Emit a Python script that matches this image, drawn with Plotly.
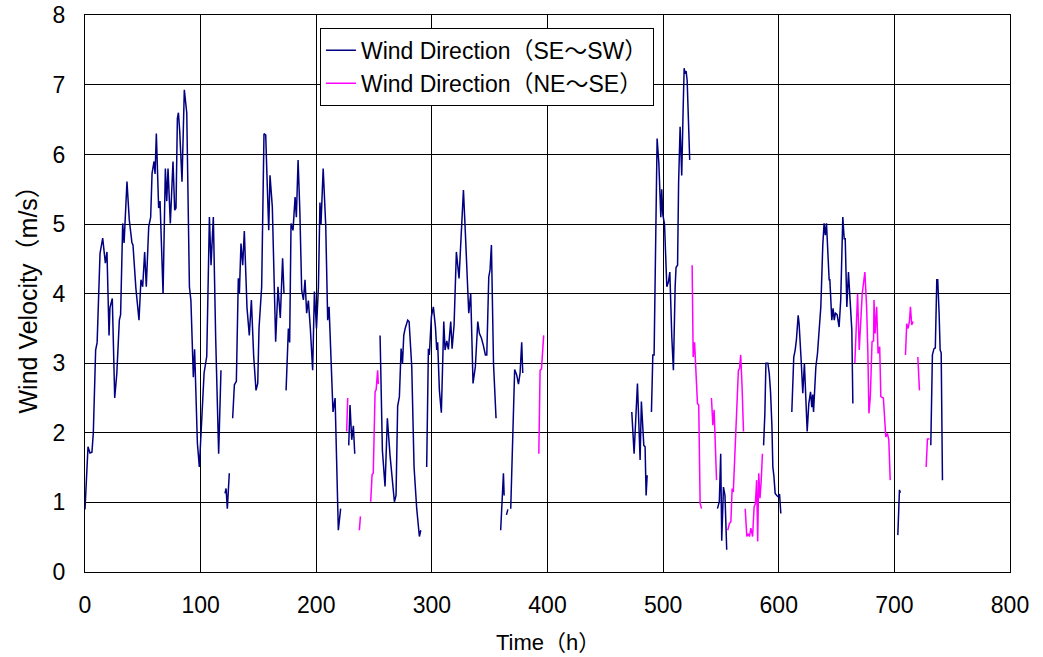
import plotly.graph_objects as go

# ---- data (time in hours, wind velocity in m/s); None = gap ----
se_sw_time = [
    0, 1, 2.6, 4.3, 6, 7.2, 9.2, 10.5, 13, 15.3, 17.6, 19, 20.8, 21.6, 23.6, 25.7, 27.5, 29.7, 30.8, 32.6,
    33.8, 36.3, 38.3, 40.6, 41.5, 44, 46.7, 48.4, 49.9, 51.6, 53, 55.1, 56.8, 58, 59.7, 60.6, 61.7, 63.7,
    64.9, 67.5, 69.5, 70.7, 71.8, 73.8, 76.1, 77.6, 78.7, 79.9, 80.8, 81.9, 83.9, 85.9, 88, 90.3, 91.6,
    93.7, 94.8, 97.2, 98.9, 103, 105.3, 107.6, 109, 111, 113, 115.6, 117.6, None,
    121.1, 122, 123.1, 124.8, None,
    127.7, 129.2, 130.9, 132.6, 133.5, 134.9, 136.4, 137.8, 140.1, 142.1, 143.9, 145.9, 147.9, 149.4,
    150.5, 152.8, 154.8, 156.3, 157.4, 158.9, 160, 162, 164.9, 166.9, 168.9, 170.9, 172.1, None,
    173.9, 175.9, 177, 178.2, 179.9, 181.7, 182.8, 184.3, 185.8, 187.4, 188.9, 190.3, 191.7, 193.2, 194.9,
    196.9, 198.4, 200.2, 201.9, 203.2, 204.1, 206, 208.2, 209.9, 211.1, 212.8, 214.5, 216.3, 219.1, 221.1, None,
    228.1, 229.2, 230.7, 232.1, 233.3, None,
    255.2, 257.2, 259.5, 261.5, 263.8, 265.5, 267.6, 269, 270.4, 271.9, 273.4, 274.6, 275.7, 276.9, 279.1,
    280.3, 282.6, 284.6, 286.9, 289.2, 290.4, None,
    295.5, 297, 297.8, 299.6, 301.3, 303.1, 304.2, 305, 306.5, 308.2, 310.3, 311.4, 312.9, 314.3, 316.3,
    317.5, 319.2, 321.2, 323.5, 325.5, 327.3, 329, 331.9, 333.6, 335.6, 337.6, 339.7, 341.1, 342.9, 344.6,
    346.3, 347.5, 349.2, 350.3, 351.5, 353.3, 355.5, None,
    359.5, 361.9, 362.5, None,
    364.5, 365.7, None,
    368.2, 369.9, 371.6, 373.4, 374.9, 376.3, 377.7, 378.6, None,
    472.9, 474.9, 477.8, 480.1, 481.2, 483.3, 484.4, 485.3, 486.2, None,
    489.9, 491.1, 492.2, 494.8, 496.3, 498, 498.8, 499.7, 501.2, 503.2, 504.6, 505.8, 507.5, 508.9, 510.4,
    511.2, 512.5, 513.4, 514.7, 516.1, 517.3, 518.2, 519, 519.9, 520.8, 521.9, 523, None,
    547, 548.6, 549.8, 550.7, 552.2, 553.5, 555, None,
    586.9, 588, 588.9, 590.6, 591.8, 592.9, 594.1, 594.9, 595.8, 596.9, 598.3, 599.6, 600.7, 601.8, None,
    611.3, 613, 614.2, 615.3, 616.8, 617.6, 619.4, 620.8, 622.2, 623.6, 624.6, 626, 627.5, 628.6, 629.4,
    630.1, 630.9, 632.1, 633.5, 636.4, 638.1, 639.2, 640.3, 641.3, 643.6, 644.2, 645.9, 647, 648, 649,
    650.5, 652.2, 653.6, 655.4, 656.6, 657.5, 658.9, 660.3, 661.7, 663.2, 664.1, None,
    703, 704.4, 705.2, None,
    731.5, 732.9, 734.3, 735.4, 736.7, 737.5, 738.7, 739.6, 740.5, 741.6,
]
se_sw_speed = [
    0.9, 1.25, 1.8, 1.71, 1.72, 2.0, 3.19, 3.3, 4.58, 4.8, 4.44, 4.6, 3.4, 3.8, 3.93, 2.5, 2.85, 3.62, 3.7, 5.01,
    4.73, 5.61, 5.06, 4.73, 4.7, 4.08, 3.62, 4.2, 4.1, 4.6, 4.1, 4.96, 5.1, 5.73, 5.9, 5.72, 6.3, 5.23,
    5.33, 4.0, 5.8, 5.33, 5.8, 5.01, 5.9, 5.2, 5.23, 6.52, 6.6, 6.34, 5.61, 6.93, 6.6, 4.1, 3.9,
    2.8, 3.2, 1.85, 1.51, 2.86, 3.1, 5.1, 4.41, 5.1, 3.38, 1.7, 2.9, None,
    1.13, 1.2, 0.91, 1.42, None,
    2.21, 2.69, 2.74, 4.22, 4.0, 4.72, 4.41, 4.9, 3.8, 3.4, 3.91, 3.1, 2.61, 2.71,
    3.5, 4.1, 6.3, 6.28, 5.68, 4.91, 5.7, 5.25, 3.31, 4.1, 3.65, 4.51, 4.0, None,
    2.61, 3.5, 3.3, 5.01, 4.91, 5.39, 5.1, 5.92, 5.2, 4.05, 3.91, 4.2, 3.72, 3.9, 3.5,
    2.9, 4.03, 3.5, 4.1, 5.31, 5.0, 5.8, 4.98, 3.62, 3.81, 3.09, 2.3, 2.5, 0.6, 0.91, None,
    1.82, 2.4, 1.9, 2.1, 1.7, None,
    3.4, 1.75, 1.23, 2.21, 1.68, 1.32, 1.01, 1.1, 2.38, 2.52, 3.21, 3.0, 3.4, 3.5, 3.62,
    3.6, 2.95, 1.51, 0.91, 0.51, 0.6, None,
    1.51, 3.21, 3.12, 3.67, 3.81, 3.52, 3.19, 3.3, 2.61, 2.29, 3.6, 3.19, 3.32, 3.2, 3.6,
    3.21, 3.55, 4.6, 4.22, 4.89, 5.49, 4.86, 3.72, 4.0, 2.71, 2.95, 3.6, 3.43, 3.36, 3.25,
    3.12, 3.12, 4.24, 4.34, 4.7, 3.0, 2.21, None,
    0.6, 1.42, 1.1, None,
    0.82, 0.9, None,
    0.91, 1.9, 2.91, 2.83, 2.7, 2.86, 3.3, 2.86, None,
    2.3, 1.7, 2.71, 1.61, 2.45, 1.82, 1.8, 1.1, 1.39, None,
    2.3, 3.12, 3.12, 6.23, 5.88, 5.1, 5.5, 5.14, 5.0, 4.1, 4.17, 4.31, 3.38, 2.9, 4.1,
    4.38, 4.41, 5.6, 6.4, 5.7, 6.64, 7.24, 7.16, 7.2, 7.06, 6.5, 5.92, None,
    0.91, 1.01, 1.7, 0.45, 1.22, 1.1, 0.32, None,
    1.82, 2.28, 3.0, 3.0, 2.85, 2.59, 2.1, 1.51, 1.38, 1.13, 1.1, 1.08, 1.12, 0.84, None,
    2.3, 3.09, 3.19, 3.34, 3.69, 3.57, 3.04, 2.57, 3.0, 2.37, 2.02, 2.42, 2.59, 2.37, 2.55,
    2.3, 2.59, 2.95, 3.14, 3.81, 4.7, 5.01, 4.84, 5.01, 4.2, 4.2, 3.62, 3.79, 3.62, 3.72,
    3.7, 3.52, 3.91, 5.1, 4.79, 4.79, 3.81, 4.31, 3.91, 3.48, 2.42, None,
    0.53, 1.18, 1.14, None,
    1.82, 3.12, 3.21, 3.22, 4.2, 4.2, 3.72, 3.19, 3.15, 1.32,
]

ne_se_time = [
    226.3, 227.2, None,
    237.3, 238.2, None,
    247.1, 248.3, 249.3, 250.9, 251.8, 253.1, 253.7, None,
    392.5, 393.6, 394.8, 396.7, None,
    525.1, 526, 527.2, 528.3, 529.7, 530.8, 532, 533.2, None,
    541.8, 543, 544.1, 546.2, None,
    555.9, 557.4, 558.6, 559.7, 560.7, 561.9, 563.1, 564, 565.1, 566.1, 567.1, 568.3, 569.5, None,
    571, 572.4, 573.6, 574.7, 575.9, 577.4, 578.7, 579.8, 580.9, 581.8, 582.7, 583.8, 584.8, 585.9, None,
    665.8, 667, 668.2, 669.6, 671.1, 672.2, 674.5, 676, 677.1, 678, 679.2, 680.7, 682, 682.4, 683.3,
    684.7, 685.9, 687.3, 688.3, 690.5, 692.6, 694, 695.2, 696.4, None,
    709.6, 710.7, 711.9, 713, 713.9, 715, 716.2, None,
    720.3, 721.7, None,
    727.5, 728.6, 730.4,
]
ne_se_speed = [
    2.02, 2.5, None,
    0.6, 0.8, None,
    1.01, 1.4, 1.42, 2.59, 2.62, 2.9, 2.7, None,
    1.7, 2.9, 2.92, 3.4, None,
    4.41, 3.09, 3.3, 2.87, 2.42, 2.4, 0.99, 0.91, None,
    2.5, 2.11, 2.33, 1.32, None,
    0.6, 0.7, 0.72, 1.2, 1.15, 1.63, 1.99, 2.42, 2.9, 2.92, 3.12, 2.66, 2.02, None,
    0.91, 0.51, 0.55, 0.51, 0.63, 0.51, 0.94, 0.98, 1.32, 0.44, 1.42, 1.06, 1.3, 1.7, None,
    3.0, 3.57, 4.0, 3.19, 3.57, 4.0, 4.31, 3.81, 3.14, 2.28, 2.52, 3.31, 3.32, 3.91, 3.43,
    3.81, 3.14, 3.24, 2.52, 2.5, 1.94, 1.99, 1.9, 1.32, None,
    3.12, 3.57, 3.5, 3.6, 3.81, 3.55, 3.6, None,
    3.09, 2.61, None,
    1.51, 1.91, 1.91,
]

series_names = ["Wind Direction（SE～SW）", "Wind Direction（NE～SE）"]
series_colors = ["#000080", "#FF00FF"]
x_ticks = [0, 100, 200, 300, 400, 500, 600, 700, 800]
y_ticks = [0, 1, 2, 3, 4, 5, 6, 7, 8]
x_title = "Time（h）"
y_title = "Wind Velocity（m/s）"

assert len(se_sw_time) == len(se_sw_speed), (len(se_sw_time), len(se_sw_speed))
assert len(ne_se_time) == len(ne_se_speed), (len(ne_se_time), len(ne_se_speed))

FONT = "Liberation Sans, Arial, Noto Sans CJK JP, sans-serif"

fig = go.Figure()
fig.add_trace(go.Scatter(x=se_sw_time, y=se_sw_speed, mode="lines", name=series_names[0],
                         line=dict(color=series_colors[0], width=1.5), connectgaps=False))
fig.add_trace(go.Scatter(x=ne_se_time, y=ne_se_speed, mode="lines", name=series_names[1],
                         line=dict(color=series_colors[1], width=1.5), connectgaps=False))

axis_common = dict(showgrid=True, gridcolor="black", gridwidth=1, showline=True, linecolor="black",
                   linewidth=1, mirror=True, zeroline=False, ticks="", automargin=False,
                   ticklabeloverflow="allow",
                   tickfont=dict(family=FONT, size=23, color="black"))

fig.update_layout(
    width=1043, height=657,
    margin=dict(l=85, r=33, t=15, b=85),
    paper_bgcolor="white", plot_bgcolor="white",
    font=dict(family=FONT, size=20, color="black"),
    xaxis=dict(range=[0, 800.01], tickvals=x_ticks, ticklabelstandoff=12, **axis_common),
    yaxis=dict(range=[0, 8.005], tickvals=y_ticks, ticklabelstandoff=14, **axis_common),
    legend=dict(x=0.254, y=0.977, xanchor="left", yanchor="top", bgcolor="white",
                bordercolor="black", borderwidth=1, font=dict(family=FONT, size=23),
                itemwidth=30, tracegroupgap=0),
    showlegend=True,
    annotations=[
        dict(text=x_title, xref="paper", yref="paper", x=0.5, y=-0.1257, xanchor="center",
             yanchor="middle", showarrow=False, font=dict(family=FONT, size=22)),
        dict(text=y_title, xref="paper", yref="paper", x=-0.0627, y=0.5, xanchor="center",
             yanchor="middle", textangle=-90, showarrow=False, font=dict(family=FONT, size=25)),
    ],
)

# remove the default 8px page margin so the figure sits at the window's top-left corner
fig.write_html("out.html", config={"displayModeBar": False},
               post_script="document.body.style.margin='0';")
